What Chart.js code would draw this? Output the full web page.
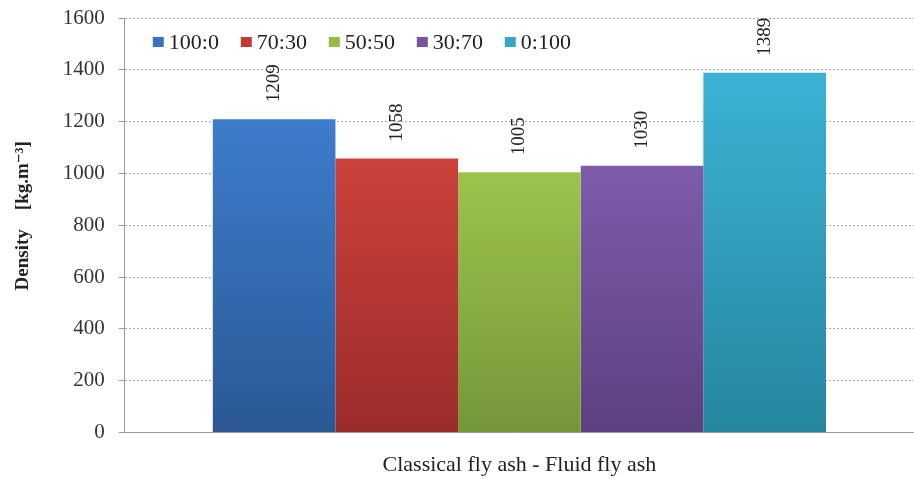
<!DOCTYPE html>
<html>
<head>
<meta charset="utf-8">
<script src="https://cdn.jsdelivr.net/npm/chart.js@4/dist/chart.umd.min.js"></script>
<style>
  html, body { margin: 0; padding: 0; background: #fff; }
  #wrap { width: 914px; height: 479px; position: relative; }
</style>
</head>
<body>
<div id="wrap"><canvas id="c" width="914" height="479"></canvas></div>
<script>
// Mix ratios (classical : fluid fly ash) and measured densities
const categories = ['Classical fly ash - Fluid fly ash'];
const mixLabels = ['100:0', '70:30', '50:50', '30:70', '0:100'];
const densities = [1209, 1058, 1005, 1030, 1389];
const yTicks = [0, 200, 400, 600, 800, 1000, 1200, 1400, 1600];

// top / bottom shade of each bar's vertical gradient
const topColors = ['#3d7dcc', '#cc423b', '#9cc34c', '#7f5caa', '#3bb2d5'];
const bottomColors = ['#2b5895', '#9b2c2a', '#76963a', '#5c4180', '#25879e'];
const swatchColors = ['#3a74c0', '#c23a36', '#94bb45', '#7654a0', '#35a6c8'];

const serif = '"Liberation Serif", "DejaVu Serif", serif';

function barGradient(i) {
  return (ctx) => {
    const chart = ctx.chart;
    const area = chart.chartArea;
    if (!area) return topColors[i];
    const y = chart.scales.y;
    const top = y.getPixelForValue(densities[i]);
    const bottom = y.getPixelForValue(0);
    const g = chart.ctx.createLinearGradient(0, top, 0, bottom);
    g.addColorStop(0, topColors[i]);
    g.addColorStop(1, bottomColors[i]);
    return g;
  };
}

const datasets = mixLabels.map((lab, i) => ({
  label: lab,
  data: [densities[i]],
  backgroundColor: barGradient(i),
  borderWidth: 0,
  barPercentage: 1,
  categoryPercentage: 0.777
}));

// values written vertically above each bar
const valueLabels = {
  id: 'valueLabels',
  afterDatasetsDraw(chart) {
    const ctx = chart.ctx;
    ctx.save();
    ctx.font = '19px ' + serif;
    ctx.fillStyle = '#222';
    ctx.textAlign = 'left';
    ctx.textBaseline = 'middle';
    chart.data.datasets.forEach((ds, i) => {
      const el = chart.getDatasetMeta(i).data[0];
      ctx.save();
      ctx.translate(el.x, el.y - 17);
      ctx.rotate(-Math.PI / 2);
      ctx.fillText(String(ds.data[0]), 0, 0);
      ctx.restore();
    });
    ctx.restore();
  }
};

// legend row drawn inside the plot area, along its top
const innerLegend = {
  id: 'innerLegend',
  afterDraw(chart) {
    const ctx = chart.ctx;
    const area = chart.chartArea;
    ctx.save();
    ctx.font = '22px ' + serif;
    ctx.textBaseline = 'middle';
    ctx.textAlign = 'left';
    const y = area.top + 24;
    chart.data.datasets.forEach((ds, i) => {
      const x = area.left + 28 + i * 88;
      ctx.fillStyle = swatchColors[i];
      ctx.fillRect(x, y - 5, 11, 10);
      ctx.fillStyle = '#222';
      ctx.fillText(ds.label, x + 16, y + 1);
    });
    ctx.restore();
  }
};

new Chart(document.getElementById('c'), {
  type: 'bar',
  data: { labels: categories, datasets },
  plugins: [valueLabels, innerLegend],
  options: {
    responsive: false,
    animation: false,
    layout: { padding: { top: 18, right: 0, left: 12, bottom: 1 } },
    plugins: {
      legend: { display: false },
      tooltip: { enabled: false }
    },
    scales: {
      x: {
        ticks: { display: false },
        grid: { display: false },
        border: { color: '#9a9a9a', width: 1 },
        title: {
          display: true,
          text: categories[0],
          color: '#222',
          font: { family: serif, size: 22 },
          padding: { top: 11, bottom: 0 }
        }
      },
      y: {
        min: 0,
        max: 1600,
        afterBuildTicks(axis) { axis.ticks = yTicks.map(v => ({ value: v })); },
        afterFit(axis) { axis.paddingTop = 0; },
        ticks: {
          color: '#333',
          font: { family: serif, size: 21 },
          padding: 14,
          callback: (v) => String(v)
        },
        grid: {
          color: '#a8a8a8',
          lineWidth: 1,
          drawTicks: true,
          tickLength: 6,
          tickColor: '#9a9a9a'
        },
        border: { color: '#9a9a9a', width: 1, dash: [2, 2], display: true },
        title: {
          display: true,
          text: '    Density    [kg.m⁻³]',
          color: '#222',
          font: { family: serif, size: 19, weight: 'bold' },
          padding: { top: 0, bottom: 14 }
        }
      }
    }
  }
});
</script>
</body>
</html>
